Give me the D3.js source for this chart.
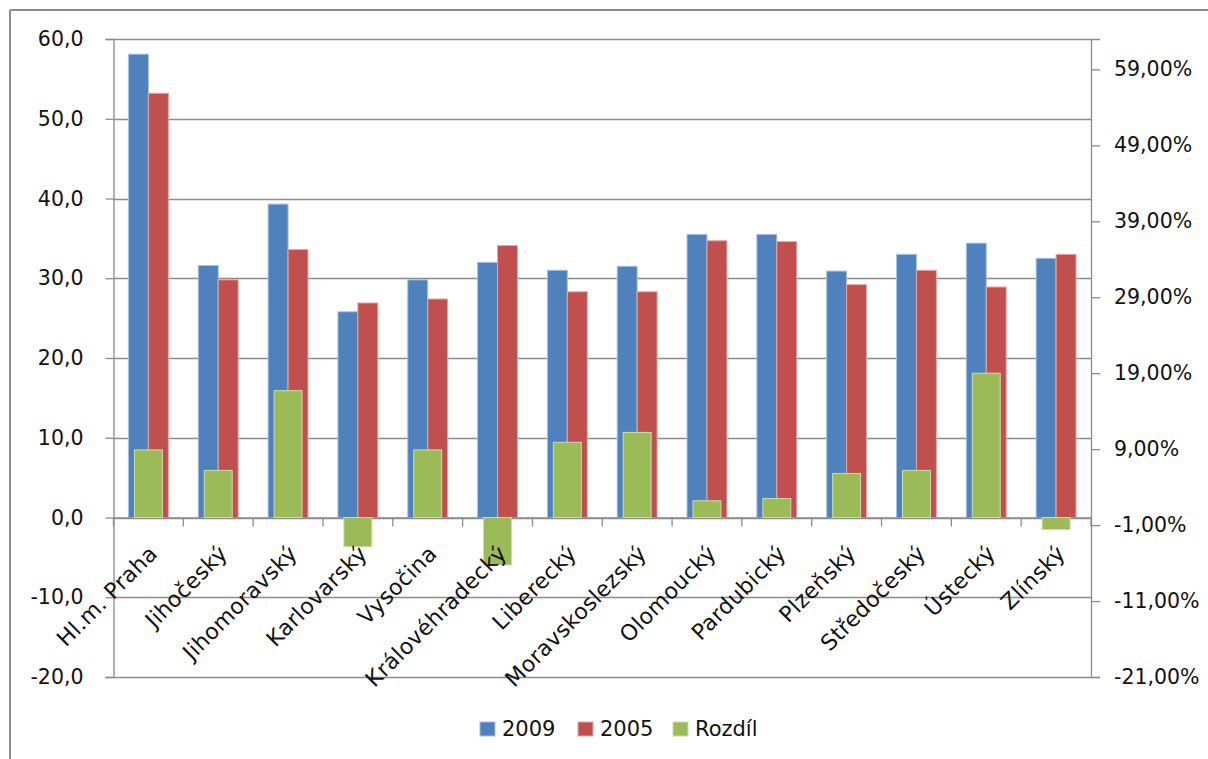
<!DOCTYPE html>
<html>
<head>
<meta charset="utf-8">
<script src="https://cdn.jsdelivr.net/npm/d3@7"></script>
<style>
  html, body { margin: 0; padding: 0; background: #fff; }
  svg { display: block; }
  text { font-family: "DejaVu Sans", Verdana, sans-serif; fill: #111; }
</style>
</head>
<body>
<svg id="chart" width="1208" height="759"></svg>
<script>
const categories = ["Hl.m. Praha", "Jihočeský", "Jihomoravský", "Karlovarský", "Vysočina",
  "Královéhradecký", "Liberecký", "Moravskoslezský", "Olomoucký", "Pardubický",
  "Plzeňský", "Středočeský", "Ústecký", "Zlínský"];
const values2009 = [58.1, 31.6, 39.3, 25.8, 29.8, 32.0, 31.0, 31.5, 35.5, 35.5, 30.9, 33.0, 34.4, 32.5];
const values2005 = [53.2, 29.8, 33.6, 26.9, 27.4, 34.1, 28.3, 28.3, 34.7, 34.6, 29.2, 31.0, 28.9, 33.0];
const rozdil = [8.9, 6.2, 16.7, -3.85, 8.9, -6.25, 9.9, 11.2, 2.2, 2.5, 5.8, 6.2, 19.0, -1.6]; // percent
const leftTicks = [-20, -10, 0, 10, 20, 30, 40, 50, 60];
const rightTicks = [-21, -11, -1, 9, 19, 29, 39, 49, 59];
const seriesNames = ["2009", "2005", "Rozdíl"];
const colors = ["#4F81BD", "#C0504D", "#9BBB59"];
const strokes = ["#a9c0de", "#e0a8a6", "#cddcae"];

const svg = d3.select("#chart");
const L = 113.5, R = 1091, T = 39, B = 677;
const FONT = '"DejaVu Sans", Verdana, sans-serif';

const fmtLeft = d => d.toFixed(1).replace(".", ",");
const fmtRight = d => d.toFixed(2).replace(".", ",") + "%";

// outer frame
svg.append("line").attr("x1", 10).attr("x2", 1208).attr("y1", 10).attr("y2", 10)
  .attr("stroke", "#8c8c8c").attr("stroke-width", 2);
svg.append("line").attr("x1", 10).attr("x2", 10).attr("y1", 10).attr("y2", 759)
  .attr("stroke", "#8c8c8c").attr("stroke-width", 2);

const x = d3.scaleBand().domain(categories).range([L, R]).paddingInner(0).paddingOuter(0);
const yL = d3.scaleLinear().domain([-20, 60]).range([B, T]);
const yR = d3.scaleLinear().domain([-21, 63]).range([B, T]);

const gridColor = "#8c8c8c";

// gridlines
svg.append("g").selectAll("line").data(leftTicks).join("line")
  .attr("x1", L).attr("x2", R)
  .attr("y1", d => Math.round(yL(d)) + 0.5).attr("y2", d => Math.round(yL(d)) + 0.5)
  .attr("stroke", gridColor).attr("stroke-width", 1.3);

// left axis
const axL = d3.axisLeft(yL).tickValues(leftTicks).tickFormat(fmtLeft).tickSize(8).tickPadding(22);
const gL = svg.append("g").attr("transform", `translate(${L},0)`).call(axL);
gL.select(".domain").attr("stroke", gridColor).attr("stroke-width", 1.3);
gL.selectAll(".tick line").attr("stroke", gridColor).attr("stroke-width", 1.3);
gL.selectAll("text").style("font-size", "20.5px").attr("fill", "#111").style("font-family", FONT);

// right axis
const axR = d3.axisRight(yR).tickValues(rightTicks).tickFormat(fmtRight).tickSize(9).tickPadding(14);
const gR = svg.append("g").attr("transform", `translate(${R},0)`).call(axR);
gR.select(".domain").attr("stroke", gridColor).attr("stroke-width", 1.3);
gR.selectAll(".tick line").attr("stroke", gridColor).attr("stroke-width", 1.3);
gR.selectAll("text").style("font-size", "20.5px").attr("fill", "#111").style("font-family", FONT);

// bars
const bw = x.bandwidth();
const barW = bw / 3.5;
const gW = bw / 2.5;
const bars = svg.append("g");
[values2009, values2005].forEach((vals, si) => {
  bars.append("g").selectAll("rect").data(categories).join("rect")
    .attr("x", (c) => x(c) + 0.75 * barW + si * barW)
    .attr("width", barW)
    .attr("y", (c, i) => Math.min(yL(vals[i]), yL(0)))
    .attr("height", (c, i) => Math.abs(yL(vals[i]) - yL(0)))
    .attr("fill", colors[si]).attr("stroke", strokes[si]).attr("stroke-width", 1);
});

// category axis at zero
const axX = d3.axisBottom(x).tickSize(0).tickFormat("");
const gX = svg.append("g").attr("transform", `translate(0,${yL(0)})`).call(axX);
gX.select(".domain").remove();
gX.append("line").attr("x1", L).attr("x2", R).attr("y1", 0.5).attr("y2", 0.5)
  .attr("stroke", gridColor).attr("stroke-width", 1.3);
gX.selectAll(".bt").data(d3.range(categories.length + 1)).join("line")
  .attr("class", "bt")
  .attr("x1", i => L + i * bw).attr("x2", i => L + i * bw)
  .attr("y1", 0).attr("y2", 9)
  .attr("stroke", gridColor).attr("stroke-width", 1.3);

// green bars (secondary axis)
svg.append("g").selectAll("rect").data(categories).join("rect")
  .attr("x", c => x(c) + 0.75 * gW)
  .attr("width", gW)
  .attr("y", (c, i) => Math.min(yR(rozdil[i]), yR(0)))
  .attr("height", (c, i) => Math.abs(yR(rozdil[i]) - yR(0)))
  .attr("fill", colors[2]).attr("stroke", strokes[2]).attr("stroke-width", 1);

// category labels
svg.append("g").selectAll("text").data(categories).join("text")
  .attr("transform", c => `translate(${x(c) + bw / 2 + 5},${yL(0) + 32}) rotate(-45)`)
  .attr("text-anchor", "end")
  .attr("dy", "0.35em")
  .style("font-size", "22px")
  .style("letter-spacing", "0.3px")
  .text(c => c);

// legend
const legend = svg.append("g");
const legX = [480, 578, 673];
seriesNames.forEach((n, i) => {
  legend.append("rect").attr("x", legX[i]).attr("y", 722).attr("width", 15).attr("height", 14)
    .attr("fill", colors[i]).attr("stroke", strokes[i]).attr("stroke-width", 1);
  legend.append("text").attr("x", legX[i] + 22).attr("y", 729).attr("dy", "0.35em")
    .style("font-size", "21px").text(n);
});
</script>
</body>
</html>
